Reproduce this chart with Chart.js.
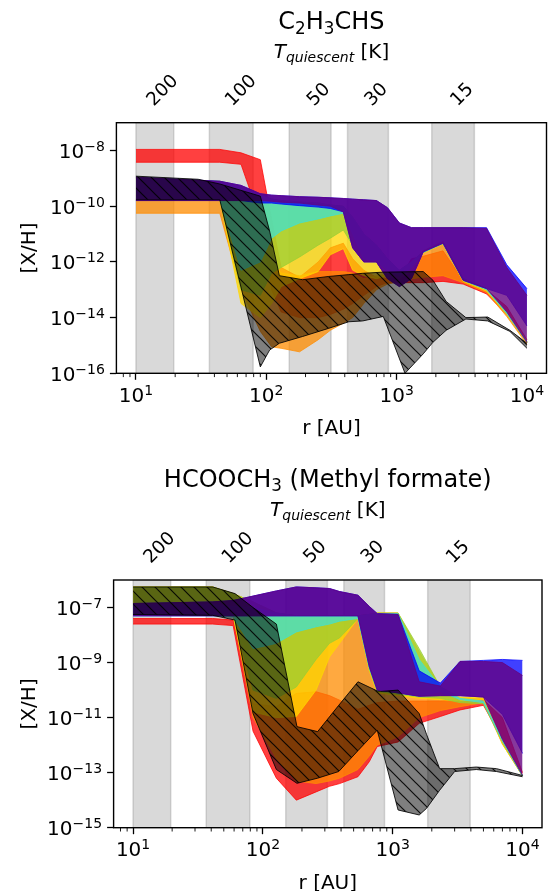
<!DOCTYPE html>
<html>
<head>
<meta charset="utf-8">
<script src="https://cdn.jsdelivr.net/npm/chart.js@4.4.1/dist/chart.umd.min.js"></script>
<style>
  html, body { margin: 0; padding: 0; background: #fff; }
  #wrap { position: relative; width: 548px; height: 891px; }
  #wrap canvas { position: absolute; left: 0; }
</style>
</head>
<body>
<div id="wrap">
  <canvas id="topChart" width="548" height="445" style="top:0"></canvas>
  <canvas id="botChart" width="548" height="446" style="top:445px"></canvas>
</div>
<script>
/* Abundance bands [X/H] vs radius for two molecules */

/* ---------- shared axis data ---------- */
const xTicks = [10, 100, 1000, 10000];
const xMinorTicks = [8, 9, 20, 30, 40, 50, 60, 70, 80, 90, 200, 300, 400, 500, 600, 700, 800, 900,
  2000, 3000, 4000, 5000, 6000, 7000, 8000, 9000];
const tempLabels = ["200", "100", "50", "30", "15"];
const tempR = [15.7, 62.8, 248, 687, 3125];
const spanR = [[10, 19.5], [36.6, 79.3], [150, 314], [420, 865], [1860, 3950]];

/* ---------- top panel: C2H3CHS ---------- */
const topYTicks = [1e-16, 1e-14, 1e-12, 1e-10, 1e-8];
const rTop = [10, 44, 64, 90, 110, 130, 180, 250, 310, 390, 460, 560, 700, 850, 1050, 1300, 1600, 2270, 3240, 4900, 7000, 10000];
const topPurpleHi = [1.1e-9, 7.9e-10, 5.6e-10, 2.8e-10, 2.5e-10, 2.4e-10, 2.2e-10, 2.1e-10, 2.0e-10, 1.9e-10, 1.8e-10, 1.7e-10, 1.6e-10, 8.9e-11, 2.5e-11, 1.7e-11, 1.7e-11, 1.7e-11, 1.7e-11, 1.6e-11, 6.3e-13, 6.3e-14];
const topPurpleLo = [1.6e-10, 1.6e-10, 1.6e-10, 1.6e-10, 1.5e-10, 1.4e-10, 1.3e-10, 1.1e-10, 1.0e-10, 6.3e-11, 3.2e-12, 1.0e-12, 1.0e-12, 2.5e-13, 1.3e-13, 2.5e-13, 2.3e-12, 4.7e-12, 2.2e-13, 1.1e-13, 1.6e-14, 1.3e-15];
const topBlueHi = [1.1e-9, 7.9e-10, 5.6e-10, 2.8e-10, 2.5e-10, 2.4e-10, 2.2e-10, 2.1e-10, 2.0e-10, 1.9e-10, 1.8e-10, 1.7e-10, 1.6e-10, 8.9e-11, 2.5e-11, 1.7e-11, 1.7e-11, 1.7e-11, 1.7e-11, 1.7e-11, 7.9e-13, 1.1e-13];
const topBlueLo = [1.6e-10, 1.6e-10, 1.6e-10, 1.3e-10, 1.3e-10, 1.2e-10, 1.05e-10, 9.3e-11, 8.3e-11, 6.3e-11, 3.2e-12, 1.0e-12, 1.0e-12, 2.5e-13, 1.3e-13, 2.5e-13, 2.3e-12, 4.7e-12, 2.2e-13, 1.1e-13, 6.3e-14, 5.0e-15];
const topCyanHi = [1.0e-9, 7.9e-10, 5.0e-10, 2.5e-10, 1.8e-10, 1.6e-10, 1.4e-10, 1.3e-10, 1.1e-10, 1.0e-10, 4.0e-11, 1.0e-11, 4.0e-12, 1.3e-12, 5.0e-13, 1.0e-12, 2.3e-12, 4.8e-12, 2.5e-13, 1.1e-13, 1.6e-14, 1.4e-15];
const topCyanLo = [2.0e-10, 1.8e-10, 5.0e-13, 1.0e-12, 7.1e-12, 1.3e-11, 2.5e-11, 3.5e-11, 4.5e-11, 5.6e-11, 1.0e-11, 1.3e-12, 1.1e-12, 5.0e-13, 3.2e-13, 6.3e-13, 2.2e-12, 4.6e-12, 2.2e-13, 1.0e-13, 1.4e-14, 1.3e-15];
const topGreenHi = [1.0e-9, 7.9e-10, 5.0e-10, 2.5e-10, 1.8e-10, 1.6e-10, 1.4e-10, 1.3e-10, 1.1e-10, 1.0e-10, 4.0e-11, 1.0e-11, 4.0e-12, 1.3e-12, 5.0e-13, 1.0e-12, 2.3e-12, 4.8e-12, 2.5e-13, 1.1e-13, 1.6e-14, 1.4e-15];
const topGreenLo = [1.9e-10, 1.7e-10, 1.0e-13, 6.3e-14, 4.0e-13, 6.3e-13, 1.5e-12, 4.0e-12, 7.1e-12, 1.4e-11, 4.0e-12, 1.1e-12, 1.0e-12, 4.5e-13, 2.8e-13, 5.6e-13, 2.15e-12, 4.5e-12, 2.1e-13, 1.0e-13, 1.4e-14, 1.3e-15];
const topGoldHi = [1.0e-9, 7.9e-10, 5.0e-10, 2.5e-10, 1.8e-10, 1.6e-10, 1.4e-10, 1.3e-10, 1.1e-10, 1.0e-10, 4.0e-11, 1.0e-11, 4.0e-12, 1.3e-12, 5.0e-13, 1.0e-12, 2.3e-12, 4.8e-12, 2.5e-13, 1.1e-13, 1.6e-14, 1.4e-15];
const topGoldLo = [1.8e-10, 1.7e-10, 3.2e-14, 1.0e-14, 3.2e-14, 1.3e-13, 2.5e-13, 4.5e-13, 1.8e-12, 3.0e-12, 5.0e-13, 3.2e-13, 2.5e-13, 3.2e-13, 2.5e-13, 5.0e-13, 2.1e-12, 4.4e-12, 2.0e-13, 8.9e-14, 1.3e-14, 1.3e-15];
const topOrangeHi = [2.5e-10, 2.5e-10, 1.6e-10, 1.0e-10, 1.0e-12, 4.0e-13, 3.2e-13, 4.5e-13, 4.5e-13, 4.5e-13, 4.0e-13, 2.5e-13, 3.2e-13, 3.5e-13, 3.2e-13, 7.9e-13, 2.5e-12, 5.4e-12, 2.4e-13, 1.05e-13, 1.6e-14, 1.4e-15];
const topOrangeLo = [5.6e-11, 5.6e-11, 1.0e-13, 3.2e-15, 8.9e-16, 7.9e-16, 5.9e-16, 1.6e-15, 3.5e-15, 6.3e-15, 1.0e-14, 3.2e-14, 1.0e-13, 1.6e-13, 2.0e-13, 2.5e-13, 2.8e-13, 3.2e-13, 1.8e-13, 7.9e-14, 1.1e-14, 1.1e-15];
const topRedHi = [1.1e-8, 1.1e-8, 8.3e-9, 4.7e-9, 3.2e-11, 6.3e-13, 2.8e-13, 1.0e-12, 3.2e-12, 4.7e-12, 1.3e-12, 5.0e-13, 2.8e-13, 2.5e-13, 2.5e-13, 1.3e-12, 1.6e-12, 2.5e-12, 2.2e-13, 1.0e-13, 2.5e-14, 1.6e-15];
const topRedLo = [3.8e-9, 3.8e-9, 3.2e-9, 3.2e-11, 1.0e-13, 1.6e-14, 1.0e-14, 1.0e-14, 1.3e-14, 2.0e-14, 3.2e-14, 6.3e-14, 1.3e-13, 1.8e-13, 1.8e-13, 1.8e-13, 1.8e-13, 2.0e-13, 1.6e-13, 7.1e-14, 1.3e-14, 1.3e-15];
const rTopHatch = [10, 30, 44, 90, 106, 126, 190, 300, 430, 550, 790, 1160, 1600, 1900, 2400, 3400, 5000, 7400, 10000];
const topHatchHi = [1.2e-9, 9.3e-10, 6.3e-10, 2.3e-10, 1.3e-11, 3.2e-13, 2.3e-13, 3.0e-13, 3.5e-13, 3.9e-13, 4.3e-13, 4.4e-13, 4.5e-13, 2.2e-13, 3.8e-14, 1.0e-14, 1.05e-14, 3.5e-15, 1.2e-15];
const topHatchLo = [1.7e-10, 1.7e-10, 1.7e-10, 1.7e-16, 6.8e-16, 1.2e-15, 2.1e-15, 4.1e-15, 7.1e-15, 7.6e-15, 1.1e-14, 1.0e-16, 5.0e-16, 1.3e-15, 3.5e-15, 8.9e-15, 7.6e-15, 3.2e-15, 7.9e-16];

/* ---------- bottom panel: HCOOCH3 ---------- */
const botYTicks = [1e-15, 1e-13, 1e-11, 1e-9, 1e-7];
const rBot = [10, 41, 59, 84, 127, 181, 257, 326, 390, 540, 660, 760, 1100, 1600, 2330, 3300, 5000, 7000, 10000];
const botPurpleHi = [1.4e-7, 1.6e-7, 1.8e-7, 2.6e-7, 4.0e-7, 5.6e-7, 5.2e-7, 4.9e-7, 3.8e-7, 2.8e-7, 1.1e-7, 6.0e-8, 5.6e-8, 2.0e-10, 1.4e-10, 1.1e-9, 1.1e-9, 1.0e-9, 3.4e-10];
const botPurpleLo = [5.0e-8, 5.0e-8, 5.0e-8, 5.0e-8, 5.0e-8, 5.0e-8, 5.0e-8, 5.0e-8, 5.0e-8, 5.0e-8, 7.1e-10, 1.0e-10, 7.9e-11, 6.0e-11, 6.3e-11, 6.3e-11, 5.6e-11, 1.6e-12, 7.9e-14];
const botBlueHi = [1.4e-7, 1.6e-7, 1.8e-7, 2.6e-7, 4.0e-7, 5.6e-7, 5.2e-7, 4.9e-7, 3.8e-7, 2.8e-7, 1.1e-7, 6.0e-8, 5.6e-8, 5.0e-10, 1.8e-10, 1.1e-9, 1.2e-9, 1.3e-9, 1.2e-9];
const botBlueLo = [5.0e-8, 5.0e-8, 5.0e-8, 5.0e-8, 5.0e-8, 5.0e-8, 5.0e-8, 5.0e-8, 5.0e-8, 5.0e-8, 7.1e-10, 1.0e-10, 7.9e-11, 6.0e-11, 6.3e-11, 6.3e-11, 5.6e-11, 1.3e-11, 5.0e-13];
const botCyanHi = [1.3e-7, 1.3e-7, 1.1e-7, 1.0e-7, 6.3e-8, 5.0e-8, 5.0e-8, 5.0e-8, 5.0e-8, 5.0e-8, 5.6e-8, 6.0e-8, 6.0e-8, 1.3e-9, 1.3e-10, 5.0e-11, 4.0e-11, 1.6e-12, 7.9e-14];
const botCyanLo = [5.0e-8, 5.0e-8, 4.5e-8, 3.2e-9, 5.0e-9, 1.3e-8, 2.0e-8, 2.5e-8, 3.2e-8, 4.0e-8, 6.3e-10, 1.0e-10, 7.9e-11, 6.0e-11, 8.9e-11, 4.5e-11, 3.5e-11, 1.4e-12, 7.6e-14];
const botGreenHi = [5.6e-7, 5.6e-7, 3.2e-7, 1.6e-7, 6.3e-8, 5.0e-8, 5.0e-8, 5.0e-8, 5.0e-8, 5.0e-8, 5.6e-8, 6.3e-8, 6.3e-8, 3.2e-9, 1.3e-10, 4.0e-11, 3.5e-11, 1.4e-12, 7.6e-14];
const botGreenLo = [1.0e-7, 1.0e-7, 5.0e-8, 1.0e-10, 5.0e-11, 1.3e-10, 1.3e-9, 5.0e-9, 7.9e-9, 4.0e-8, 5.6e-10, 8.9e-11, 7.1e-11, 5.6e-11, 5.0e-11, 3.5e-11, 3.2e-11, 1.3e-12, 7.6e-14];
const botGoldHi = [5.6e-7, 5.6e-7, 3.2e-7, 1.6e-7, 6.3e-8, 5.0e-8, 5.0e-8, 5.0e-8, 5.0e-8, 5.0e-8, 5.6e-8, 6.3e-8, 6.3e-8, 2.5e-9, 1.3e-10, 5.6e-11, 5.6e-11, 1.4e-12, 7.6e-14];
const botGoldLo = [1.0e-7, 1.0e-7, 5.0e-8, 1.6e-11, 1.0e-11, 1.1e-11, 1.0e-10, 1.6e-9, 5.0e-9, 4.0e-8, 5.0e-10, 7.9e-11, 6.3e-11, 5.0e-11, 4.5e-11, 4.0e-11, 4.5e-11, 1.1e-12, 7.6e-14];
const botOrangeHi = [5.6e-7, 5.6e-7, 3.2e-7, 1.6e-7, 6.3e-8, 5.0e-8, 5.0e-8, 5.0e-8, 5.0e-8, 5.0e-8, 5.6e-8, 6.3e-8, 6.3e-8, 6.3e-10, 1.3e-10, 5.0e-11, 5.0e-11, 1.4e-12, 7.6e-14];
const botOrangeLo = [1.0e-7, 1.0e-7, 5.0e-8, 1.0e-11, 3.2e-13, 5.0e-14, 4.0e-14, 5.0e-14, 6.3e-14, 1.3e-13, 4.0e-13, 1.0e-12, 2.0e-12, 1.0e-11, 1.8e-11, 2.5e-11, 3.5e-11, 1.1e-12, 7.6e-14];
const botRedHi = [4.0e-8, 4.0e-8, 3.5e-8, 3.2e-11, 2.5e-11, 7.6e-11, 8.7e-11, 6.3e-11, 4.3e-11, 2.0e-11, 2.8e-11, 3.5e-11, 4.0e-11, 4.0e-11, 4.0e-11, 4.5e-11, 4.5e-11, 1.0e-11, 1.0e-13];
const botRedLo = [2.5e-8, 2.5e-8, 2.2e-8, 3.2e-12, 6.3e-14, 1.0e-14, 2.0e-14, 3.2e-14, 4.0e-14, 7.1e-14, 2.5e-13, 8.9e-13, 1.3e-12, 6.2e-12, 1.1e-11, 1.9e-11, 2.8e-11, 1.6e-12, 7.9e-14];
const rBotHatch = [10, 41, 61, 84, 127, 183, 264, 384, 540, 760, 810, 1100, 1600, 1820, 2300, 3000, 4400, 6300, 10000];
const botHatchHi = [5.6e-7, 5.6e-7, 3.2e-7, 1.0e-7, 2.5e-8, 4.7e-12, 3.1e-12, 2.8e-11, 2.0e-10, 9.3e-11, 8.9e-11, 1.0e-10, 1.4e-11, 2.5e-12, 1.4e-13, 1.4e-13, 1.6e-13, 1.4e-13, 7.9e-14];
const botHatchLo = [5.6e-8, 5.2e-8, 3.5e-8, 1.4e-11, 1.3e-13, 4.1e-14, 6.3e-14, 1.1e-13, 6.3e-13, 3.5e-12, 1.1e-12, 4.4e-15, 2.9e-15, 5.0e-15, 2.3e-14, 1.1e-13, 1.3e-13, 1.1e-13, 7.1e-14];

/* ---------- styles ---------- */
const FONT = '"DejaVu Sans", sans-serif';
const TICK_PX = 20;
const SUP_PX = 14;
const SUP_RISE = 7;
const SPAN_COLOR = "rgba(128,128,128,0.3)";
const RED = "rgba(255,0,0,0.75)";
const ORANGE = "rgba(255,140,0,0.75)";
const GOLD = "rgba(255,215,0,0.75)";
const GREEN = "rgba(154,205,50,0.75)";
const CYAN = "rgba(64,224,208,0.75)";
const BLUE = "rgba(0,0,255,0.75)";
const PURPLE = "rgba(100,0,128,0.78)";
const X_MIN = 7.08;
const X_MAX = 14125;

function makeHatch() {
  const s = 13;
  const c = document.createElement("canvas");
  c.width = s; c.height = s;
  const g = c.getContext("2d");
  g.fillStyle = "rgba(0,0,0,0.5)";
  g.fillRect(0, 0, s, s);
  g.strokeStyle = "rgba(0,0,0,0.9)";
  g.lineWidth = 1.2;
  g.beginPath();
  g.moveTo(-2, -2); g.lineTo(s + 2, s + 2);
  g.moveTo(-2, s - 2); g.lineTo(2, s + 2);
  g.moveTo(s - 2, -2); g.lineTo(s + 2, 2);
  g.stroke();
  return g.createPattern(c, "repeat");
}
const HATCH = makeHatch();

function pts(r, v) {
  return r.map((x, i) => ({ x: x, y: v[i] }));
}

/* one band = upper line + lower line filled back to the upper one */
function band(r, hi, lo, fill, edge, width) {
  return [
    { data: pts(r, hi), borderColor: edge, borderWidth: width, pointRadius: 0, fill: false },
    { data: pts(r, lo), borderColor: edge, borderWidth: width, pointRadius: 0, fill: "-1", backgroundColor: fill }
  ];
}

/* text runs: [text, size, dy, italic] */
function drawRuns(ctx, runs, x, y, align) {
  const widths = runs.map((run) => {
    ctx.font = (run[3] ? "italic " : "") + run[1] + "px " + FONT;
    return ctx.measureText(run[0]).width;
  });
  const total = widths.reduce((a, b) => a + b, 0);
  let cx = align === "right" ? x - total : x - total / 2;
  ctx.textAlign = "left";
  ctx.textBaseline = "alphabetic";
  runs.forEach((run, i) => {
    ctx.font = (run[3] ? "italic " : "") + run[1] + "px " + FONT;
    ctx.fillText(run[0], cx, y + run[2]);
    cx += widths[i];
  });
}

function powerRuns(v) {
  const e = Math.round(Math.log10(v));
  return [["10", TICK_PX, 0, false], [String(e).replace("-", "\u2212"), SUP_PX, -SUP_RISE, false]];
}

function makeDecor(d) {
  return {
    id: "decor",
    beforeDatasetsDraw(chart) {
      const { ctx, chartArea: a, scales: { x } } = chart;
      ctx.save();
      ctx.beginPath();
      ctx.rect(a.left, a.top, a.right - a.left, a.bottom - a.top);
      ctx.clip();
      ctx.fillStyle = SPAN_COLOR;
      ctx.strokeStyle = SPAN_COLOR;
      ctx.lineWidth = 1.5;
      spanR.forEach(([r0, r1]) => {
        const x0 = x.getPixelForValue(r0);
        const x1 = x.getPixelForValue(r1);
        ctx.fillRect(x0, a.top, x1 - x0, a.bottom - a.top);
        ctx.strokeRect(x0, a.top - 3, x1 - x0, a.bottom - a.top + 6);
      });
      ctx.restore();
    },
    afterDatasetsDraw(chart) {
      const { ctx, chartArea: a } = chart;
      ctx.save();
      ctx.strokeStyle = "#000";
      ctx.lineWidth = 1.4;
      ctx.strokeRect(a.left, a.top, a.right - a.left, a.bottom - a.top);
      ctx.restore();
    },
    afterDraw(chart) {
      const { ctx, chartArea: a, scales: { x, y } } = chart;
      const midX = (a.left + a.right) / 2;
      ctx.save();
      ctx.fillStyle = "#000";

      /* minor x ticks */
      ctx.strokeStyle = "#000";
      ctx.lineWidth = 0.9;
      ctx.beginPath();
      xMinorTicks.forEach((v) => {
        const px = x.getPixelForValue(v);
        if (px < a.left || px > a.right) return;
        ctx.moveTo(px, a.bottom);
        ctx.lineTo(px, a.bottom + 3.8);
      });
      ctx.stroke();

      /* tick labels */
      xTicks.forEach((v) => drawRuns(ctx, powerRuns(v), x.getPixelForValue(v), a.bottom + 28.5, "center"));
      d.yTicks.forEach((v) => drawRuns(ctx, powerRuns(v), a.left - 11.5, y.getPixelForValue(v) + 7.3, "right"));

      /* axis titles */
      drawRuns(ctx, [["r [AU]", 20, 0, false]], midX, a.bottom + 61, "center");
      ctx.save();
      ctx.translate(28, (a.top + a.bottom) / 2);
      ctx.rotate(-Math.PI / 2);
      drawRuns(ctx, [["[X/H]", 20, 0, false]], 0, 7, "center");
      ctx.restore();

      /* temperature axis on top */
      ctx.font = "18.5px " + FONT;
      tempLabels.forEach((t, i) => {
        const px = x.getPixelForValue(tempR[i]);
        const w = ctx.measureText(t).width;
        const box = (w + 13.5) / Math.SQRT2;
        ctx.save();
        ctx.translate(px, a.top - 16 - box / 2);
        ctx.rotate(-Math.PI / 4);
        ctx.textAlign = "center";
        ctx.textBaseline = "alphabetic";
        ctx.fillText(t, 0, 6.7);
        ctx.restore();
      });
      drawRuns(ctx, [["T", 20, 0, true], ["quiescent", 14, 4, true], [" [K]", 20, 0, false]], midX, a.top - 64.5, "center");

      /* panel title */
      drawRuns(ctx, d.title, midX, a.top - 93.5, "center");
      ctx.restore();
    }
  };
}

function makeChart(id, cfg) {
  return new Chart(document.getElementById(id), {
    type: "line",
    data: { datasets: cfg.datasets },
    options: {
      responsive: false,
      animation: false,
      events: [],
      layout: { padding: { top: cfg.padTop, right: cfg.padRight, left: 0, bottom: 0 } },
      plugins: { legend: { display: false }, tooltip: { enabled: false } },
      elements: { point: { radius: 0 }, line: { tension: 0 } },
      scales: {
        x: {
          type: "logarithmic",
          min: X_MIN,
          max: X_MAX,
          afterBuildTicks: (s) => { s.ticks = xTicks.map((v) => ({ value: v })); },
          afterFit: (s) => { s.height = cfg.xHeight; },
          ticks: { display: false },
          border: { display: false },
          grid: { display: true, drawOnChartArea: false, drawTicks: true, tickLength: 6.5, tickWidth: 1.3, tickColor: "#000" }
        },
        y: {
          type: "logarithmic",
          min: cfg.yMin,
          max: cfg.yMax,
          afterBuildTicks: (s) => { s.ticks = cfg.yTicks.map((v) => ({ value: v })); },
          afterFit: (s) => { s.width = cfg.yWidth; },
          ticks: { display: false },
          border: { display: false },
          grid: { display: true, drawOnChartArea: false, drawTicks: true, tickLength: 6.5, tickWidth: 1.3, tickColor: "#000" }
        }
      }
    },
    plugins: [makeDecor({ yTicks: cfg.yTicks, title: cfg.title })]
  });
}

/* datasets listed top layer first (index 0 is painted last) */
makeChart("topChart", {
  padTop: 122.7, padRight: 1.5, yWidth: 116.4, xHeight: 71.7,
  yMin: 1e-16, yMax: 1e-7, yTicks: topYTicks,
  title: [["C", 24, 0, false], ["2", 16.8, 4.8, false], ["H", 24, 0, false], ["3", 16.8, 4.8, false], ["CHS", 24, 0, false]],
  datasets: [
    ...band(rTopHatch, topHatchHi, topHatchLo, HATCH, "rgba(0,0,0,0.85)", 1),
    ...band(rTop, topPurpleHi, topPurpleLo, PURPLE, PURPLE, 1),
    ...band(rTop, topBlueHi, topBlueLo, BLUE, BLUE, 1),
    ...band(rTop, topCyanHi, topCyanLo, CYAN, CYAN, 1),
    ...band(rTop, topGreenHi, topGreenLo, GREEN, GREEN, 1),
    ...band(rTop, topGoldHi, topGoldLo, GOLD, GOLD, 1),
    ...band(rTop, topOrangeHi, topOrangeLo, ORANGE, ORANGE, 1),
    ...band(rTop, topRedHi, topRedLo, RED, RED, 1)
  ]
});

makeChart("botChart", {
  padTop: 135, padRight: 6, yWidth: 113.6, xHeight: 63.3,
  yMin: 1e-15, yMax: 1e-6, yTicks: botYTicks,
  title: [["HCOOCH", 24, 0, false], ["3", 16.8, 4.8, false], [" (Methyl formate)", 24, 0, false]],
  datasets: [
    ...band(rBotHatch, botHatchHi, botHatchLo, HATCH, "rgba(0,0,0,0.85)", 1),
    ...band(rBot, botPurpleHi, botPurpleLo, PURPLE, PURPLE, 1),
    ...band(rBot, botBlueHi, botBlueLo, BLUE, BLUE, 1),
    ...band(rBot, botCyanHi, botCyanLo, CYAN, CYAN, 1),
    ...band(rBot, botGreenHi, botGreenLo, GREEN, GREEN, 1),
    ...band(rBot, botGoldHi, botGoldLo, GOLD, GOLD, 1),
    ...band(rBot, botOrangeHi, botOrangeLo, ORANGE, ORANGE, 1),
    ...band(rBot, botRedHi, botRedLo, RED, RED, 1)
  ]
});
</script>
</body>
</html>
